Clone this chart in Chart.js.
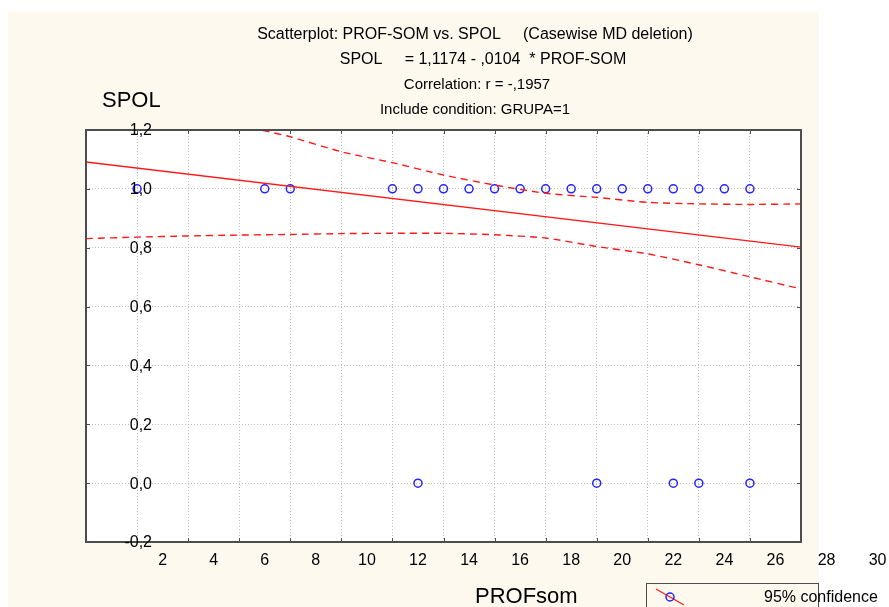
<!DOCTYPE html>
<html>
<head>
<meta charset="utf-8">
<script src="https://cdn.jsdelivr.net/npm/chart.js@4.4.1/dist/chart.umd.min.js"></script>
<style>
  html, body { margin: 0; padding: 0; background: #ffffff; }
  #wrap { width: 889px; height: 607px; position: relative; }
</style>
</head>
<body>
<div id="wrap"><canvas id="c" width="889" height="607"></canvas></div>
<script>
// ---- data ----
const profSom = [1, 6, 7, 11, 12, 13, 14, 15, 16, 17, 18, 19, 20, 21, 22, 23, 24, 25, 12, 19, 22, 23, 25];
const spol    = [1, 1, 1, 1, 1, 1, 1, 1, 1, 1, 1, 1, 1, 1, 1, 1, 1, 1, 0, 0, 0, 0, 0];

const fitX = [-1, 27];
const fitY = [1.0915, 0.802];

const upperX = [5, 6, 7, 9, 11, 13, 15, 17, 19, 21, 23, 25, 27];
const upperY = [1.215, 1.197, 1.177, 1.126, 1.089, 1.047, 1.013, 0.985, 0.971, 0.954, 0.949, 0.947, 0.949];

const lowerX = [-1, 1, 3, 5, 7, 9, 11, 13, 15, 17, 19, 21, 23, 25, 27];
const lowerY = [0.831, 0.836, 0.840, 0.843, 0.845, 0.848, 0.849, 0.849, 0.844, 0.833, 0.804, 0.779, 0.742, 0.701, 0.660];

const xGridValues = [-1, 1, 3, 5, 7, 9, 11, 13, 15, 17, 19, 21, 23, 25, 27];
const xTickValues = [2, 4, 6, 8, 10, 12, 14, 16, 18, 20, 22, 24, 26, 28, 30];
const xTickLabels = ['2', '4', '6', '8', '10', '12', '14', '16', '18', '20', '22', '24', '26', '28', '30'];
const yTickValues = [-0.2, 0, 0.2, 0.4, 0.6, 0.8, 1.0, 1.2];
const yTickLabels = ['-0,2', '0,0', '0,2', '0,4', '0,6', '0,8', '1,0', '1,2'];

const titleLines = [
  'Scatterplot: PROF-SOM vs. SPOL     (Casewise MD deletion)',
  'SPOL     = 1,1174 - ,0104  * PROF-SOM',
  'Correlation: r = -,1957',
  'Include condition: GRUPA=1'
];
const yAxisTitle = 'SPOL';
const xAxisTitle = 'PROFsom';
const legendLabel = '95% confidence';

const zip = (xs, ys) => xs.map((x, i) => ({ x: x, y: ys[i] }));

const FONT = '"Liberation Sans", Arial, sans-serif';
const POINT_BLUE = '#2424ff';
const LINE_RED = '#ff1a1a';
const FRAME = '#4d4d4d';

const decorPlugin = {
  id: 'decor',
  beforeDraw(chart) {
    const ctx = chart.ctx;
    ctx.save();
    ctx.fillStyle = '#ffffff';
    ctx.fillRect(0, 0, chart.width, chart.height);
    ctx.fillStyle = '#fef9ee';
    ctx.fillRect(8, 12, 811, 595);
    const a = chart.chartArea;
    ctx.fillStyle = '#ffffff';
    ctx.fillRect(a.left, a.top, a.right - a.left, a.bottom - a.top);
    ctx.restore();
  },
  afterDraw(chart) {
    const ctx = chart.ctx;
    const a = chart.chartArea;
    const xs = chart.scales.x, ys = chart.scales.y;
    ctx.save();
    // frame
    ctx.strokeStyle = FRAME;
    ctx.lineWidth = 2;
    ctx.strokeRect(a.left, a.top, a.right - a.left, a.bottom - a.top);
    // inward tick marks
    ctx.lineWidth = 1;
    ctx.beginPath();
    xGridValues.forEach(v => {
      const px = Math.round(xs.getPixelForValue(v)) + 0.5;
      ctx.moveTo(px, a.top); ctx.lineTo(px, a.top + 4);
      ctx.moveTo(px, a.bottom); ctx.lineTo(px, a.bottom - 4);
    });
    yTickValues.forEach(v => {
      const py = Math.round(ys.getPixelForValue(v)) + 0.5;
      ctx.moveTo(a.left, py); ctx.lineTo(a.left + 4, py);
      ctx.moveTo(a.right, py); ctx.lineTo(a.right - 4, py);
    });
    ctx.stroke();

    ctx.fillStyle = '#000000';
    // y tick labels (drawn inside the plot, right aligned)
    ctx.font = '16px ' + FONT;
    ctx.textAlign = 'right';
    ctx.textBaseline = 'middle';
    yTickValues.forEach((v, i) => {
      ctx.fillText(yTickLabels[i], 152, ys.getPixelForValue(v) + 1);
    });
    // x tick labels
    ctx.textAlign = 'center';
    xTickValues.forEach((v, i) => {
      ctx.fillText(xTickLabels[i], xs.getPixelForValue(v), 561);
    });
    // title lines
    const sizes = [16, 16, 15, 15];
    const centers = [475, 483, 477, 475];
    const ys0 = [35, 60, 85, 110];
    titleLines.forEach((t, i) => {
      ctx.font = sizes[i] + 'px ' + FONT;
      ctx.fillText(t, centers[i], ys0[i]);
    });
    // axis titles
    ctx.font = '22px ' + FONT;
    ctx.textAlign = 'left';
    ctx.fillText(yAxisTitle, 102, 101);
    ctx.fillText(xAxisTitle, 475, 597);
    // legend box
    ctx.strokeStyle = FRAME;
    ctx.lineWidth = 1;
    ctx.strokeRect(646.5, 583.5, 172, 30);
    ctx.strokeStyle = LINE_RED;
    ctx.lineWidth = 1.2;
    ctx.beginPath(); ctx.moveTo(656, 589); ctx.lineTo(684, 605); ctx.stroke();
    ctx.strokeStyle = POINT_BLUE;
    ctx.lineWidth = 1.5;
    ctx.beginPath(); ctx.arc(670, 597, 4, 0, Math.PI * 2); ctx.stroke();
    ctx.fillStyle = '#000000';
    ctx.font = '16px ' + FONT;
    ctx.fillText(legendLabel, 764, 598);
    ctx.restore();
  }
};

new Chart(document.getElementById('c'), {
  type: 'scatter',
  data: {
    datasets: [
      {
        label: 'upper',
        type: 'line',
        data: zip(upperX, upperY),
        borderColor: LINE_RED,
        borderWidth: 1.4,
        borderDash: [7, 5],
        pointRadius: 0,
        fill: false,
        tension: 0.2
      },
      {
        label: 'lower',
        type: 'line',
        data: zip(lowerX, lowerY),
        borderColor: LINE_RED,
        borderWidth: 1.4,
        borderDash: [7, 5],
        pointRadius: 0,
        fill: false,
        tension: 0.2
      },
      {
        label: 'fit',
        type: 'line',
        data: zip(fitX, fitY),
        borderColor: LINE_RED,
        borderWidth: 1.4,
        pointRadius: 0,
        fill: false
      },
      {
        label: 'SPOL',
        data: zip(profSom, spol),
        pointStyle: 'circle',
        pointRadius: 4,
        pointHoverRadius: 4,
        borderColor: POINT_BLUE,
        backgroundColor: 'rgba(0,0,0,0)',
        borderWidth: 1.5
      }
    ]
  },
  options: {
    responsive: false,
    animation: false,
    events: [],
    layout: { padding: { left: 86, top: 130, right: 88, bottom: 65 } },
    plugins: {
      legend: { display: false },
      title: { display: false },
      tooltip: { enabled: false }
    },
    scales: {
      x: {
        type: 'linear',
        min: -1,
        max: 27,
        afterBuildTicks: s => { s.ticks = xGridValues.map(v => ({ value: v })); },
        ticks: { display: false },
        grid: { color: '#bdbdbd', lineWidth: 1, drawTicks: false },
        border: { display: false, dash: [1, 2] }
      },
      y: {
        type: 'linear',
        min: -0.2,
        max: 1.2,
        afterBuildTicks: s => { s.ticks = yTickValues.map(v => ({ value: v })); },
        ticks: { display: false },
        grid: { color: '#bdbdbd', lineWidth: 1, drawTicks: false },
        border: { display: false, dash: [1, 2] }
      }
    }
  },
  plugins: [decorPlugin]
});
</script>
</body>
</html>
